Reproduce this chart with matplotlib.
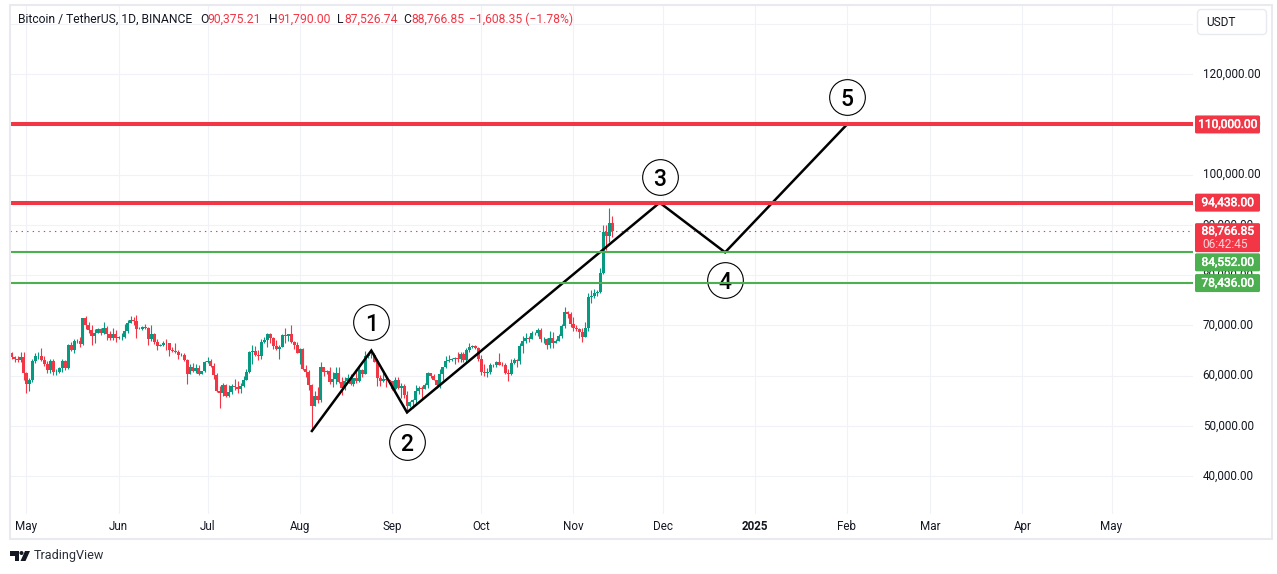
import matplotlib
matplotlib.use("Agg")
import matplotlib.pyplot as plt
import matplotlib.dates as mdates
import matplotlib.patheffects as pe
import matplotlib.transforms as mtransforms
import numpy as np
import pandas as pd
from matplotlib.patches import FancyBboxPatch, Polygon, Rectangle, Circle

plt.rcParams["font.family"] = ["Roboto", "DejaVu Sans"]

W, H = 1277, 574

# daily candles in thousands of USDT, 26 Apr - 14 Nov 2024, one row per month
opens = [
    64.5, 63.7, 63.4, 63.1, 63.8,
    60.6, 58.3, 59.1, 62.9, 63.9, 64.0, 63.1, 62.3, 61.2, 63.0, 60.8, 60.8, 61.5, 62.9, 61.5, 66.2, 65.2, 67.0, 66.9, 66.3, 71.4, 70.1, 69.1, 67.9, 68.5, 69.3, 68.5, 69.4, 68.3, 67.6, 68.3,
    67.5, 67.7, 67.7, 68.8, 70.5, 71.1, 70.8, 69.3, 69.3, 69.6, 69.5, 67.3, 68.2, 66.7, 66.0, 66.2, 66.6, 66.5, 65.1, 64.9, 64.8, 64.1, 64.2, 63.2, 60.3, 61.8, 60.9, 61.6, 60.3, 60.9,
    62.7, 62.9, 62.0, 60.2, 57.0, 56.6, 58.2, 55.9, 56.7, 58.0, 57.8, 57.3, 57.9, 59.2, 60.8, 64.7, 65.0, 64.1, 63.9, 66.7, 67.2, 68.2, 67.5, 66.0, 65.4, 65.8, 68.0, 67.9, 68.2, 66.8, 66.2,
    64.6, 65.4, 61.4, 60.7, 58.1, 54.0, 56.0, 55.1, 61.7, 60.8, 60.9, 58.7, 59.3, 60.6, 58.7, 57.5, 58.9, 59.5, 58.4, 59.5, 59.0, 61.2, 60.4, 64.0, 64.2, 64.2, 62.8, 59.5, 59.0, 59.4, 59.1,
    58.9, 57.3, 59.1, 57.5, 57.9, 56.2, 54.0, 54.8, 55.1, 57.0, 57.6, 57.3, 58.1, 60.5, 60.0, 59.1, 58.2, 60.3, 61.7, 62.9, 63.2, 63.3, 63.6, 63.3, 64.3, 63.1, 65.2, 65.8, 65.9, 65.6,
    63.3, 60.8, 60.6, 60.7, 62.1, 62.1, 62.8, 62.2, 62.1, 60.6, 60.3, 62.5, 63.2, 62.9, 66.0, 67.0, 67.6, 67.4, 68.4, 68.4, 69.0, 67.4, 67.4, 66.1, 67.6, 66.6, 67.0, 67.9, 69.9, 72.7, 72.3,
    70.3, 69.5, 69.3, 68.7, 67.8, 69.4, 75.6, 75.9, 76.5, 76.7, 80.4, 88.6, 87.9, 90.38,
]
highs = [
    64.8, 64.0, 64.0, 64.7, 64.7,
    60.8, 59.6, 63.3, 64.5, 64.7, 65.5, 63.9, 62.9, 63.4, 63.4, 61.4, 61.8, 63.4, 63.1, 66.4, 66.8, 67.4, 67.4, 67.7, 71.5, 71.9, 70.6, 70.0, 69.2, 69.5, 69.5, 70.6, 69.9, 68.9, 69.5, 69.0,
    67.9, 68.4, 70.3, 71.0, 71.8, 71.6, 72.0, 69.6, 69.9, 70.2, 69.6, 70.0, 68.4, 67.3, 66.4, 66.9, 67.3, 66.1, 65.7, 66.5, 65.1, 64.5, 64.5, 63.4, 62.4, 62.5, 62.4, 62.2, 61.0, 63.0,
    63.8, 63.3, 62.5, 60.5, 58.0, 58.5, 58.4, 58.2, 58.3, 59.4, 59.0, 58.5, 59.9, 61.4, 65.0, 66.1, 66.0, 65.1, 67.4, 67.8, 68.4, 68.5, 67.8, 67.1, 66.1, 68.3, 69.4, 68.3, 70.0, 67.0, 66.8,
    65.6, 65.6, 62.2, 61.1, 58.3, 57.0, 57.7, 62.7, 61.8, 61.2, 61.8, 60.7, 61.8, 61.8, 59.8, 59.8, 60.3, 60.3, 59.6, 61.4, 61.8, 61.4, 64.9, 64.5, 65.0, 64.5, 63.2, 60.2, 61.2, 60.0, 59.4,
    59.0, 59.8, 59.8, 58.5, 58.3, 57.0, 54.9, 55.3, 58.1, 58.0, 58.0, 58.6, 60.7, 60.6, 60.4, 59.2, 61.3, 61.8, 63.9, 64.1, 63.6, 63.8, 64.7, 64.7, 64.8, 65.5, 66.5, 66.2, 66.1, 65.7,
    64.1, 62.4, 61.5, 62.5, 62.4, 63.0, 64.5, 62.7, 62.5, 61.3, 63.4, 63.5, 63.3, 66.5, 67.9, 68.4, 67.9, 68.9, 68.7, 69.4, 69.5, 67.8, 67.5, 68.8, 68.7, 67.4, 68.2, 70.3, 73.6, 72.9, 72.7,
    71.6, 70.0, 69.5, 69.5, 70.6, 76.4, 77.0, 77.2, 77.0, 81.5, 89.9, 89.9, 93.3, 91.79,
]
lows = [
    63.3, 62.8, 62.8, 62.7, 59.1,
    56.5, 56.9, 58.8, 62.6, 63.4, 62.9, 62.0, 60.6, 60.6, 60.2, 60.1, 60.6, 60.8, 61.1, 61.3, 64.9, 64.6, 66.6, 65.8, 66.1, 69.2, 68.4, 66.1, 66.6, 68.5, 68.1, 68.2, 67.2, 67.1, 67.2, 66.7,
    67.4, 67.2, 67.6, 68.5, 70.4, 70.1, 67.5, 69.2, 69.1, 69.2, 66.1, 66.9, 66.3, 65.1, 65.9, 66.0, 65.1, 64.0, 64.7, 64.5, 63.4, 63.9, 63.0, 58.4, 60.3, 60.7, 60.6, 60.1, 60.3, 60.7,
    62.5, 61.7, 59.4, 56.8, 53.5, 56.0, 55.8, 55.7, 56.3, 57.2, 56.5, 56.5, 57.7, 59.1, 60.6, 62.4, 63.9, 63.2, 63.3, 66.6, 65.8, 66.5, 65.4, 65.1, 63.4, 65.7, 66.5, 67.0, 66.5, 65.3, 64.5,
    62.3, 61.1, 59.8, 57.1, 49.1, 53.9, 54.5, 54.7, 60.0, 60.3, 58.4, 57.7, 58.4, 58.5, 56.1, 57.1, 58.8, 58.2, 57.9, 58.6, 58.8, 59.8, 60.3, 63.6, 63.6, 62.8, 58.0, 57.9, 58.7, 57.7, 58.7,
    57.2, 57.1, 57.4, 55.6, 55.6, 52.5, 53.7, 53.6, 54.6, 56.4, 55.6, 57.3, 57.6, 59.6, 59.2, 57.5, 57.6, 59.2, 61.6, 62.7, 62.9, 62.4, 62.7, 62.7, 62.7, 62.5, 64.8, 65.5, 65.4, 62.9,
    60.2, 60.0, 59.8, 60.4, 61.7, 61.8, 62.1, 61.9, 60.3, 58.9, 60.1, 62.4, 61.7, 62.4, 64.5, 66.5, 66.8, 67.3, 68.1, 68.0, 66.8, 66.6, 65.3, 65.6, 65.5, 66.5, 66.9, 67.5, 69.5, 71.4, 69.6,
    68.8, 68.8, 67.5, 66.8, 67.8, 68.9, 74.4, 75.5, 75.8, 76.5, 80.2, 85.1, 86.6, 87.53,
]
closes = [
    63.7, 63.4, 63.1, 63.8, 60.6,
    58.3, 59.1, 62.9, 63.9, 64.0, 63.1, 62.3, 61.2, 63.0, 60.8, 60.8, 61.5, 62.9, 61.5, 66.2, 65.2, 67.0, 66.9, 66.3, 71.4, 70.1, 69.1, 67.9, 68.5, 69.3, 68.5, 69.4, 68.3, 67.6, 68.3, 67.5,
    67.7, 67.7, 68.8, 70.5, 71.1, 70.8, 69.3, 69.3, 69.6, 69.5, 67.3, 68.2, 66.7, 66.0, 66.2, 66.6, 66.5, 65.1, 64.9, 64.8, 64.1, 64.2, 63.2, 60.3, 61.8, 60.9, 61.6, 60.3, 60.9, 62.7,
    62.9, 62.0, 60.2, 57.0, 56.6, 58.2, 55.9, 56.7, 58.0, 57.8, 57.3, 57.9, 59.2, 60.8, 64.7, 65.0, 64.1, 63.9, 66.7, 67.2, 68.2, 67.5, 66.0, 65.4, 65.8, 68.0, 67.9, 68.2, 66.8, 66.2, 64.6,
    65.4, 61.4, 60.7, 58.1, 54.0, 56.0, 55.1, 61.7, 60.8, 60.9, 58.7, 59.3, 60.6, 58.7, 57.5, 58.9, 59.5, 58.4, 59.5, 59.0, 61.2, 60.4, 64.0, 64.2, 64.2, 62.8, 59.5, 59.0, 59.4, 59.1, 58.9,
    57.3, 59.1, 57.5, 57.9, 56.2, 54.0, 54.8, 55.1, 57.0, 57.6, 57.3, 58.1, 60.5, 60.0, 59.1, 58.2, 60.3, 61.7, 62.9, 63.2, 63.3, 63.6, 63.3, 64.3, 63.1, 65.2, 65.8, 65.9, 65.6, 63.3,
    60.8, 60.6, 60.7, 62.1, 62.1, 62.8, 62.2, 62.1, 60.6, 60.3, 62.5, 63.2, 62.9, 66.0, 67.0, 67.6, 67.4, 68.4, 68.4, 69.0, 67.4, 67.4, 66.1, 67.6, 66.6, 67.0, 67.9, 69.9, 72.7, 72.3, 70.3,
    69.5, 69.3, 68.7, 67.8, 69.4, 75.6, 75.9, 76.5, 76.7, 80.4, 88.6, 87.9, 90.38, 88.77,
]

# hand drawn wave count
wave_dates = ["2024-08-05", "2024-08-25", "2024-09-06", "2024-11-30", "2024-12-22", "2025-02-01"]
wave_prices = [49000, 65000, 52700, 94438, 84552, 110000]
wave_labels = ["1", "2", "3", "4", "5"]
label_dates = ["2024-08-25", "2024-09-06", "2024-11-30", "2024-12-22", "2025-02-01"]
label_prices = [70700, 46900, 99600, 79000, 115400]

red_levels = [110000, 94438]
green_levels = [84552, 78436]
last_price = 88766.85

price_ticks = [40000, 50000, 60000, 70000, 80000, 90000, 100000, 110000, 120000, 130000]
month_ticks = ["2024-05-01", "2024-06-01", "2024-07-01", "2024-08-01", "2024-09-01", "2024-10-01", "2024-11-01",
               "2024-12-01", "2025-01-01", "2025-02-01", "2025-03-01", "2025-04-01", "2025-05-01"]
month_labels = ["May", "Jun", "Jul", "Aug", "Sep", "Oct", "Nov", "Dec", "2025", "Feb", "Mar", "Apr", "May"]

UP = "#089981"
RED = "#f23645"
GREEN = "#4caf50"
GRID = "#f0f2f7"
BORDER = "#e8eaf0"
INK = "#131722"

dates = mdates.date2num(pd.date_range("2024-04-26", "2024-11-14"))
o = np.array(opens) * 1000
h = np.array(highs) * 1000
l = np.array(lows) * 1000
c = np.array(closes) * 1000
colors = np.where(c >= o, UP, RED)

fig = plt.figure(figsize=(W / 100, H / 100), dpi=100, facecolor="white")

# chart pane, 10..1193 px across and 5..514 px down
ax = fig.add_axes([10 / W, 1 - 514 / H, 1183 / W, 509 / H])
may1 = mdates.date2num(pd.Timestamp("2024-05-01"))
ax.set_xlim(may1 - 5.55, may1 + 392.4)
ax.set_ylim(120000 - (514 - 74.2) / 0.005025, 120000 + (74.2 - 5) / 0.005025)

ax.set_xticks(mdates.date2num(pd.to_datetime(month_ticks)))
ax.set_xticklabels(month_labels, fontsize=8.4, color=INK)
ax.get_xticklabels()[8].set_fontweight("bold")
ax.set_yticks(price_ticks)
ax.set_yticklabels([f"{p:,.2f}" for p in price_ticks], fontsize=8.4, color=INK)
ax.yaxis.tick_right()
ax.tick_params(axis="x", length=0, pad=4)
ax.tick_params(axis="y", length=0, pad=7)
# tick text sits a little above the grid line
lift = mtransforms.ScaledTranslation(0, 1.5 / 100, fig.dpi_scale_trans)
for label in ax.get_yticklabels():
    label.set_transform(label.get_transform() + lift)
ax.grid(color=GRID, linewidth=0.75)
ax.set_axisbelow(True)
for spine in ax.spines.values():
    spine.set_visible(False)

# Candles
ax.vlines(dates, l, h, colors=colors, linewidth=0.8, zorder=2)
ax.bar(dates, np.abs(c - o), bottom=np.minimum(o, c), width=1.0, color=colors, linewidth=0, antialiased=False, zorder=2)

# Last price
ax.axhline(last_price, color=RED, linewidth=0.8, linestyle=(0, (1.2, 3.8)), zorder=2)

# Wave lines and numbered circles
wave_x = mdates.date2num(pd.to_datetime(wave_dates))
ax.plot(wave_x, wave_prices, color="black", linewidth=1.8, zorder=3, solid_joinstyle="miter")
label_x = mdates.date2num(pd.to_datetime(label_dates))
ax.scatter(label_x, label_prices, s=660, facecolor="white", edgecolor="black", linewidth=0.8, zorder=3.5)
for x, y, txt in zip(label_x, label_prices, wave_labels):
    ax.text(x, y, txt, fontsize=16.5, fontweight="medium", color="black", ha="center", va="center_baseline", zorder=3.6)

# Horizontal levels
for level in red_levels:
    ax.axhline(level, color=RED, linewidth=2.9, zorder=4)
for level in green_levels:
    ax.axhline(level, color=GREEN, linewidth=1.5, zorder=4)

# Overlay in pixel coordinates for frame, header, price tags and logo
ov = fig.add_axes([0, 0, 1, 1], facecolor="none")
ov.set_xlim(0, W)
ov.set_ylim(H, 0)
ov.axis("off")

ov.add_patch(Rectangle((9.5, 4.5), 1262, 534, fill=False, edgecolor=BORDER, linewidth=1.5))

# thin white stroke makes the tag text as heavy as in the screenshot
heavy = [pe.withStroke(linewidth=0.35, foreground="white")]


def price_y(price):
    return H - ax.transData.transform((0, price))[1]


def price_tag(price, txt, color, shift=0):
    y = price_y(price) + shift
    ov.add_patch(FancyBboxPatch((1195, y - 9), 65, 18, boxstyle="round,pad=0,rounding_size=1.5",
                                facecolor=color, edgecolor="none", zorder=5))
    ov.text(1227.5, y, txt, color="white", fontsize=8.6, ha="center", va="center", zorder=6, path_effects=heavy)


for p in red_levels:
    price_tag(p, f"{p:,.2f}", RED)

# tag with countdown below the price
y = price_y(last_price)
ov.add_patch(FancyBboxPatch((1195, y - 8), 65, 29, boxstyle="round,pad=0,rounding_size=1.5",
                            facecolor=RED, edgecolor="none", zorder=5))
ov.text(1227.5, y, f"{last_price:,.2f}", color="white", fontsize=8.6, ha="center", va="center", zorder=6, path_effects=heavy)
ov.text(1202, y + 13, "06:42:45", color="#fcd5d9", fontsize=8.6, ha="left", va="center", zorder=6)

# the upper green tag is pushed down so it clears the last price tag
price_tag(green_levels[0], f"{green_levels[0]:,.2f}", GREEN, shift=10)
price_tag(green_levels[1], f"{green_levels[1]:,.2f}", GREEN)

# Currency button
ov.add_patch(FancyBboxPatch((1197.5, 9.5), 69, 25, boxstyle="round,pad=0,rounding_size=4",
                            facecolor="white", edgecolor=BORDER, linewidth=1, zorder=5))
ov.text(1206, 23, "USDT", color=INK, fontsize=8.6, ha="left", va="center", zorder=6)

# Header line
header = [
    (18, "Bitcoin / TetherUS, 1D, BINANCE", INK),
    (200, "O", INK), (207.5, "90,375.21", RED),
    (269, "H", INK), (277, "91,790.00", RED),
    (337, "L", INK), (344, "87,526.74", RED),
    (403, "C", INK), (411, "88,766.85", RED),
    (469, "\u22121,608.35 (\u22121.78%)", RED),
]
for x, txt, color in header:
    ov.text(x, 19.5, txt, color=color, fontsize=8.7, ha="left", va="center")

# TradingView mark
ov.add_patch(Polygon([(10, 551), (19, 551), (19, 561), (14.5, 561), (14.5, 555.5), (10, 555.5)], facecolor=INK, edgecolor="none"))
ov.add_patch(Circle((21.5, 553), 2, facecolor=INK, edgecolor="none"))
ov.add_patch(Polygon([(25, 551), (30, 551), (25.5, 561), (20.5, 561)], facecolor=INK, edgecolor="none"))
ov.text(33.5, 556, "TradingView", color="#2a2e39", fontsize=9.1, ha="left", va="center")

fig.savefig("out.png", dpi=100)
